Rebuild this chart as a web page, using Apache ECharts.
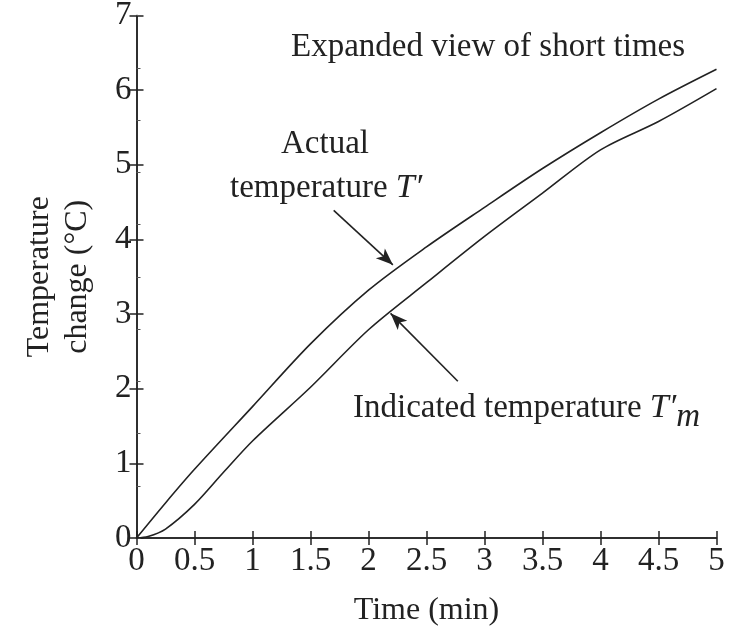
<!DOCTYPE html>
<html lang="en">
<head>
<meta charset="UTF-8">
<title>Temperature change</title>
<script src="https://cdn.jsdelivr.net/npm/echarts@6/dist/echarts.min.js"></script>
<style type="text/css">
body{margin:0; padding:0; background:#fff;}
#main{width:741px; height:626px;}
</style>
</head>
<body>
<div id="main"></div>
<script type="text/javascript">
// time (min) / temperature change (C)
var actualT = [0, 0.25, 0.5, 1.0, 1.5, 2.0, 2.5, 3.0, 3.5, 4.0, 4.5, 5.0];
var actualV = [0, 0.47, 0.92, 1.76, 2.6, 3.32, 3.9, 4.43, 4.95, 5.43, 5.88, 6.28];
var indicT = [0, 0.1, 0.25, 0.5, 0.75, 1.0, 1.5, 2.0, 2.5, 3.0, 3.5, 4.0, 4.5, 5.0];
var indicV = [0, 0.02, 0.12, 0.45, 0.88, 1.3, 2.02, 2.79, 3.42, 4.04, 4.62, 5.2, 5.58, 6.02];
// arrows: [tail, tip]
var arrowActual = [[1.70, 4.39], [2.21, 3.66]];
var arrowIndic = [[2.77, 2.10], [2.19, 3.01]];

function pairs(t, v) {
    var out = [];
    for (var i = 0; i < t.length; i++) out.push([t[i], v[i]]);
    return out;
}

var font = '"Liberation Serif", "DejaVu Serif", serif';
var ink = '#222';

var myChart = echarts.init(document.getElementById('main'));

var axisCommon = {
    type: 'value',
    min: 0,
    max: 5,
    interval: 0.5,
    axisLine: {show: true, lineStyle: {color: ink, width: 1.5}},
    axisTick: {show: true, inside: true, length: 7, lineStyle: {color: ink, width: 1.5}},
    splitLine: {show: false}
};

var option = {
    backgroundColor: '#fff',
    animation: false,
    grid: {left: 136.5, right: 24.5, top: 15.5, bottom: 88, containLabel: false, outerBoundsMode: 'none'},
    xAxis: [
        echarts.util.merge({
            position: 'bottom',
            name: 'Time (min)',
            nameLocation: 'middle',
            nameGap: 57,
            nameTextStyle: {fontFamily: font, fontSize: 32, color: ink},
            axisLabel: {
                fontFamily: font, fontSize: 33, color: ink, margin: 7,
                formatter: function (v) { return String(v); }
            }
        }, axisCommon, true),
        echarts.util.merge({
            position: 'top',
            axisLabel: {show: false}
        }, axisCommon, true)
    ],
    yAxis: [
        {
            type: 'value', position: 'left', min: 0, max: 7, interval: 1,
            name: 'Temperature\nchange (°C)',
            nameLocation: 'middle',
            nameGap: 40,
            nameTextStyle: {fontFamily: font, fontSize: 32, color: ink, lineHeight: 38},
            axisLine: {show: true, lineStyle: {color: ink, width: 1.5}},
            axisTick: {show: true, inside: true, length: 7, lineStyle: {color: ink, width: 1.5}},
            axisLabel: {fontFamily: font, fontSize: 33, color: ink, margin: 5},
            splitLine: {show: false}
        },
        {
            type: 'value', position: 'right', min: 0, max: 7, interval: 1,
            axisLine: {show: true, lineStyle: {color: ink, width: 1.5}},
            axisTick: {show: true, inside: true, length: 7, lineStyle: {color: ink, width: 1.5}},
            axisLabel: {show: false},
            splitLine: {show: false}
        },
        {
            type: 'value', position: 'left', min: 0, max: 7, interval: 0.7,
            axisLine: {show: false},
            axisTick: {show: true, inside: true, length: 4, lineStyle: {color: '#555', width: 1}},
            axisLabel: {show: false},
            splitLine: {show: false}
        }
    ],
    series: [
        {
            name: 'Actual temperature',
            type: 'line',
            smooth: 0.3,
            showSymbol: false,
            lineStyle: {color: ink, width: 1.6},
            data: pairs(actualT, actualV),
            markLine: {
                silent: true,
                symbol: ['none', 'arrow'],
                symbolSize: [10, 17],
                label: {show: false},
                lineStyle: {color: ink, width: 1.6, type: 'solid'},
                data: [
                    [{coord: arrowActual[0]}, {coord: arrowActual[1]}],
                    [{coord: arrowIndic[0]}, {coord: arrowIndic[1]}]
                ]
            }
        },
        {
            name: 'Indicated temperature',
            type: 'line',
            smooth: 0.3,
            showSymbol: false,
            lineStyle: {color: ink, width: 1.6},
            data: pairs(indicT, indicV)
        }
    ],
    graphic: [
        {
            type: 'text', left: 291, top: 31,
            style: {text: 'Expanded view of short times', font: '33px ' + font, fill: ink}
        },
        {
            type: 'text', left: 281, top: 128,
            style: {text: 'Actual', font: '33px ' + font, fill: ink}
        },
        {
            type: 'text', left: 230, top: 171,
            style: {
                text: '{n|temperature }{i|T′}',
                rich: {
                    n: {font: '33px ' + font, fill: ink},
                    i: {font: 'italic 34px ' + font, fill: ink}
                }
            }
        },
        {
            type: 'text', left: 353, top: 391,
            style: {
                text: '{n|Indicated temperature }{i|T′}{s|m}',
                rich: {
                    n: {font: '33px ' + font, fill: ink},
                    i: {font: 'italic 34px ' + font, fill: ink},
                    s: {font: 'italic 33px ' + font, fill: ink, padding: [18, 0, 0, 0]}
                }
            }
        }
    ]
};
myChart.setOption(option);
</script>
</body>
</html>
